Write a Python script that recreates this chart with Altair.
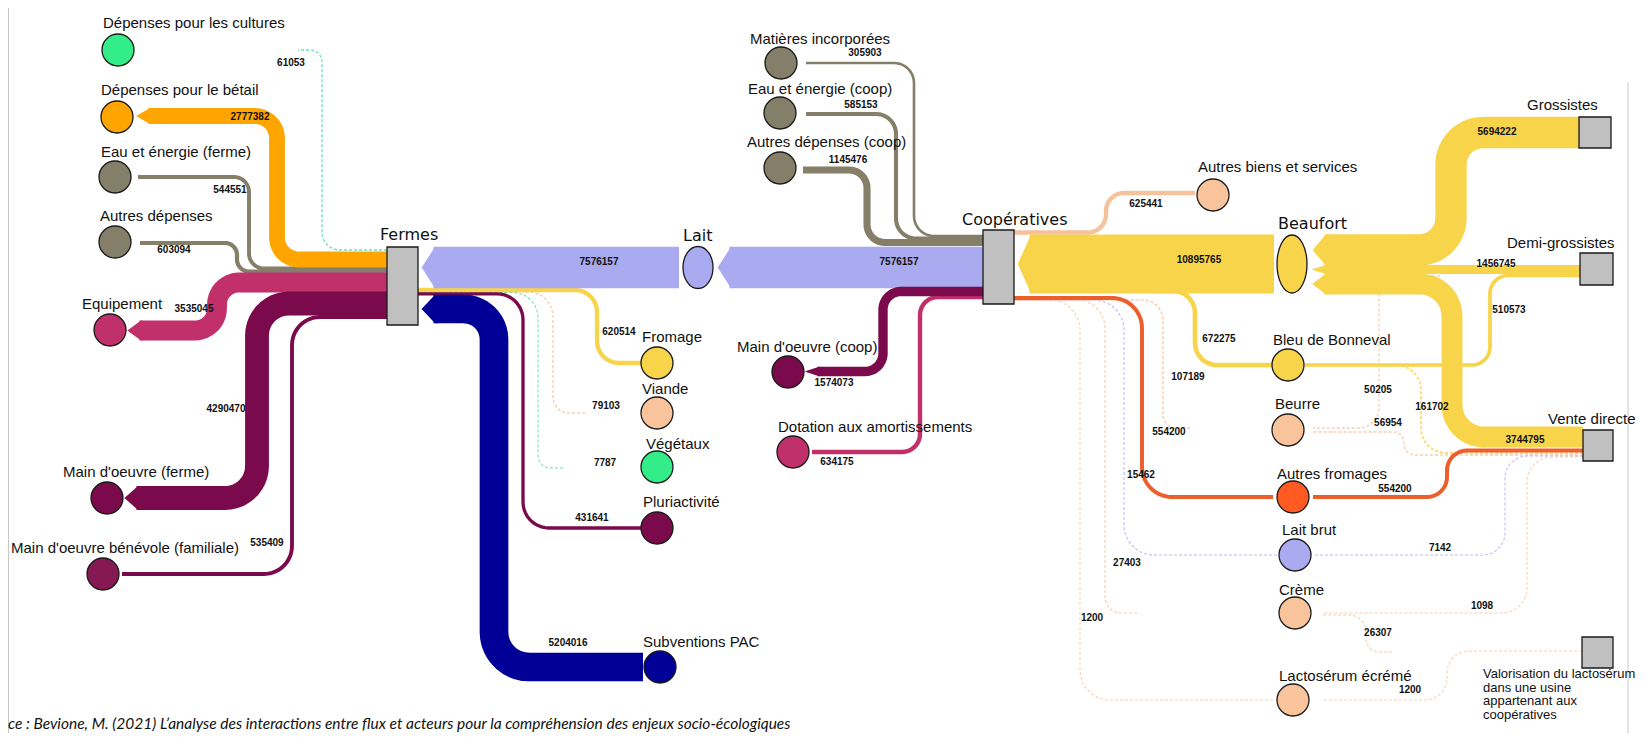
import altair as alt
import numpy as np
import pandas as pd

# ------------------------------------------------------------------ data
node_names = [
    "Dépenses pour les cultures", "Dépenses pour le bétail", "Eau et énergie (ferme)",
    "Autres dépenses", "Equipement", "Main d'oeuvre (ferme)",
    "Main d'oeuvre bénévole (familiale)", "Fermes", "Lait", "Fromage", "Viande",
    "Végétaux", "Pluriactivité", "Subventions PAC", "Matières incorporées",
    "Eau et énergie (coop)", "Autres dépenses (coop)", "Coopératives",
    "Main d'oeuvre (coop)", "Dotation aux amortissements", "Autres biens et services",
    "Beaufort", "Bleu de Bonneval", "Beurre", "Autres fromages", "Lait brut", "Crème",
    "Lactosérum écrémé", "Grossistes", "Demi-grossistes", "Vente directe",
    "Valorisation du lactosérum\ndans une usine\nappartenant aux\ncoopératives",
]
VALO = node_names[-1]

flow_source = [
    "Fermes", "Fermes", "Fermes", "Fermes", "Fermes", "Fermes", "Fermes",
    "Lait", "Coopératives", "Fromage", "Viande", "Végétaux", "Pluriactivité", "Subventions PAC",
    "Coopératives", "Coopératives", "Coopératives", "Coopératives", "Coopératives",
    "Beaufort", "Autres biens et services", "Bleu de Bonneval", "Autres fromages", "Lait brut",
    "Crème", "Lactosérum écrémé", "Beurre",
    "Grossistes", "Demi-grossistes", "Vente directe", "Demi-grossistes", "Vente directe",
    "Demi-grossistes", "Vente directe", "Vente directe", "Vente directe", "Vente directe",
    VALO, VALO,
]
flow_target = [
    "Dépenses pour les cultures", "Dépenses pour le bétail", "Eau et énergie (ferme)",
    "Autres dépenses", "Equipement", "Main d'oeuvre (ferme)", "Main d'oeuvre bénévole (familiale)",
    "Fermes", "Lait", "Fermes", "Fermes", "Fermes", "Fermes", "Fermes",
    "Matières incorporées", "Eau et énergie (coop)", "Autres dépenses (coop)",
    "Main d'oeuvre (coop)", "Dotation aux amortissements",
    "Coopératives", "Coopératives", "Coopératives", "Coopératives", "Coopératives",
    "Coopératives", "Coopératives", "Coopératives",
    "Beaufort", "Beaufort", "Beaufort", "Bleu de Bonneval", "Bleu de Bonneval",
    "Beurre", "Beurre", "Autres fromages", "Lait brut", "Crème",
    "Crème", "Lactosérum écrémé",
]
flow_values = [
    61053, 2777382, 544551, 603094, 3535045, 4290470, 535409,
    7576157, 7576157, 620514, 79103, 7787, 431641, 5204016,
    305903, 585153, 1145476, 1574073, 634175,
    10895765, 625441, 672275, 554200, 15462, 27403, 1200, 107189,
    5694222, 1456745, 3744795, 510573, 161702, 50205, 56954, 554200, 7142, 1098,
    26307, 1200,
]
caption = ("ce : Bevione, M. (2021) L’analyse des interactions entre flux et acteurs "
           "pour la compréhension des enjeux socio-écologiques")

# ------------------------------------------------------------------ layout (pixel positions of the drawing)
FLOW_GROUP = ["green", "orange", "gray", "gray", "pink", "purple", "purple",
              "lav", "lav", "yellow", "peach", "green", "purple", "navy",
              "gray", "gray", "gray", "purple", "pink",
              "yellow", "peach", "yellow", "red", "lav", "peach", "peach", "peach",
              "yellow", "yellow", "yellow", "yellow", "yellow", "peach", "peach", "red", "lav", "peach",
              "peach", "peach"]
PALETTE = {"green": "#3FDDA2", "orange": "#FFA500", "gray": "#857F69", "pink": "#C2306C",
           "purple": "#7A0A4C", "lav": "#AAAAF0", "yellow": "#F8D44A", "peach": "#F5C29C",
           "navy": "#000096", "red": "#EE5E2C"}
TIPS = {1, 4, 5, 7, 8, 13, 17, 19, 27, 28, 29}
ROUTES = [
    ([(387, 250), (322, 250), (322, 50), (298, 50)], 18),
    ([(387, 259.5), (277, 259.5), (277, 116), (137, 116)], 22),
    ([(387, 268.5), (249, 268.5), (249, 177), (138, 177)], 15),
    ([(387, 271.5), (237, 271.5), (237, 243), (140, 243)], 12),
    ([(387, 282.5), (217, 282.5), (217, 330.5), (128, 330.5)], 22),
    ([(387, 303.5), (257, 303.5), (257, 498), (125, 498)], 32),
    ([(387, 317), (292, 317), (292, 574), (122, 574)], 28),
    ([(679, 267.5), (422, 267.5)], 0),
    ([(983, 267.5), (718, 267.5)], 0),
    ([(641, 363), (597, 363), (597, 290), (418, 290)], 22),
    ([(585, 413), (553, 413), (553, 291.8), (418, 291.8)], 25),
    ([(563, 468), (538, 468), (538, 292.6), (418, 292.6)], 25),
    ([(641, 528), (523, 528), (523, 293.8), (418, 293.8)], 26),
    ([(643, 667), (494, 667), (494, 309), (422, 309)], 35),
    ([(983, 236), (914, 236), (914, 63), (806, 63)], 20),
    ([(983, 238.5), (896, 238.5), (896, 114), (806, 114)], 20),
    ([(983, 242.5), (867, 242.5), (867, 170), (803, 170)], 18),
    ([(983, 291.5), (883, 291.5), (883, 371.5), (806, 371.5)], 18),
    ([(983, 297), (920, 297), (920, 452), (812, 452)], 18),
    ([(1274, 264), (1018, 264)], 0),
    ([(1195, 193), (1106, 193), (1106, 232.5), (1014, 232.5)], 18),
    ([(1272, 365), (1195, 365), (1195, 291), (1150, 291)], 22),
    ([(1273, 497), (1142, 497), (1142, 298), (1014, 298)], 30),
    ([(1277, 555), (1124, 555), (1124, 300), (1014, 300)], 30),
    ([(1137, 613), (1105, 613), (1105, 300), (1014, 300)], 28),
    ([(1273, 700), (1080, 700), (1080, 300), (1014, 300)], 30),
    ([(1190, 428), (1163, 428), (1163, 300), (1014, 300)], 20),
    ([(1579, 132.5), (1451, 132.5), (1451, 250), (1313, 250)], 32),
    ([(1580, 269.5), (1313, 269.5)], 0),
    ([(1583, 437), (1452, 437), (1452, 284), (1313, 284)], 32),
    ([(1580, 275.5), (1490, 275.5), (1490, 365), (1305, 365)], 18),
    ([(1583, 453), (1421, 453), (1421, 365), (1305, 365)], 25),
    ([(1440, 276), (1379, 276), (1379, 428), (1313, 428)], 20),
    ([(1583, 455), (1404, 455), (1404, 432), (1313, 432)], 11),
    ([(1583, 450.5), (1447, 450.5), (1447, 497), (1313, 497)], 20),
    ([(1583, 456), (1505, 456), (1505, 555), (1313, 555)], 22),
    ([(1583, 457), (1527, 457), (1527, 613), (1322, 613)], 25),
    ([(1392, 652), (1366, 652), (1366, 615), (1322, 615)], 17),
    ([(1582, 651), (1447, 651), (1447, 700), (1323, 700)], 22),
]
VALUE_XY = [(291, 63), (250, 117), (230, 190), (174, 250), (194, 309), (226, 409), (267, 543),
            (599, 262), (899, 262), (619, 332), (606, 406), (605, 463), (592, 518), (568, 643),
            (865, 53), (861, 105), (848, 160), (834, 383), (837, 462),
            (1199, 260), (1146, 204), (1219, 339), (1169, 432), (1141, 475), (1127, 563),
            (1092, 618), (1188, 377),
            (1497, 132), (1496, 264), (1525, 440), (1509, 310), (1432, 407), (1378, 390),
            (1388, 423), (1395, 489), (1440, 548), (1482, 606), (1378, 633), (1410, 690)]

CIRCLES = {
    "Dépenses pour les cultures": ((118, 50), "#33EE88"),
    "Dépenses pour le bétail": ((117, 117), "#FFA500"),
    "Eau et énergie (ferme)": ((115, 177), "#857F69"),
    "Autres dépenses": ((115, 242), "#857F69"),
    "Equipement": ((110, 330), "#C0306A"),
    "Main d'oeuvre (ferme)": ((107, 498), "#7A0A4C"),
    "Main d'oeuvre bénévole (familiale)": ((103, 574), "#861852"),
    "Fromage": ((657, 363), "#F8D44A"),
    "Viande": ((657, 413), "#F9C49C"),
    "Végétaux": ((657, 467), "#33EE88"),
    "Pluriactivité": ((657, 528), "#7A0A4C"),
    "Subventions PAC": ((660, 667), "#000096"),
    "Matières incorporées": ((781, 63), "#857F69"),
    "Eau et énergie (coop)": ((780, 113), "#857F69"),
    "Autres dépenses (coop)": ((780, 168), "#857F69"),
    "Main d'oeuvre (coop)": ((788, 372), "#7A0A4C"),
    "Dotation aux amortissements": ((793, 452), "#C0306A"),
    "Autres biens et services": ((1213, 195), "#F9C49C"),
    "Bleu de Bonneval": ((1288, 365), "#F8D44A"),
    "Beurre": ((1288, 430), "#F9C49C"),
    "Autres fromages": ((1293, 497), "#FF5A22"),
    "Lait brut": ((1295, 555), "#AAAAF0"),
    "Crème": ((1295, 613), "#F9C49C"),
    "Lactosérum écrémé": ((1293, 700), "#F9C49C"),
}
ELLIPSES = {"Lait": ((698, 267.5), 30, 42, "#AAAAF0"),
            "Beaufort": ((1292, 264), 30, 58, "#F8D44A")}
RECTS = {"Fermes": (387, 418, 247, 325), "Coopératives": (983, 1014, 230, 304),
         "Grossistes": (1579, 1611, 117, 148), "Demi-grossistes": (1580, 1613, 253, 285),
         "Vente directe": (1583, 1613, 430, 461), VALO: (1582, 1613, 637, 668)}
LABEL_XY = {
    "Dépenses pour les cultures": (103, 23), "Dépenses pour le bétail": (101, 90),
    "Eau et énergie (ferme)": (101, 152), "Autres dépenses": (100, 216), "Equipement": (82, 304),
    "Main d'oeuvre (ferme)": (63, 472), "Main d'oeuvre bénévole (familiale)": (11, 548),
    "Fromage": (642, 337), "Viande": (642, 389), "Végétaux": (646, 444),
    "Pluriactivité": (643, 502), "Subventions PAC": (643, 642),
    "Matières incorporées": (750, 39), "Eau et énergie (coop)": (748, 89),
    "Autres dépenses (coop)": (747, 142), "Main d'oeuvre (coop)": (737, 347),
    "Dotation aux amortissements": (778, 427), "Autres biens et services": (1198, 167),
    "Bleu de Bonneval": (1273, 340), "Beurre": (1275, 404), "Autres fromages": (1277, 474),
    "Lait brut": (1282, 530), "Crème": (1279, 590), "Lactosérum écrémé": (1279, 676),
    "Grossistes": (1527, 105), "Demi-grossistes": (1507, 243), "Vente directe": (1548, 419),
}
BIG_LABEL_XY = {"Fermes": (380, 235), "Lait": (683, 236), "Coopératives": (962, 220),
                "Beaufort": (1278, 224)}
VALO_XY = (1483, 668)
TIP_LEN = 12
VMAX = max(flow_values)
DOTTED_BELOW = 200000

# ------------------------------------------------------------------ build tables
def rounded(points, r, steps=12):
    pts = [np.array(p, float) for p in points]
    out = [pts[0]]
    for i in range(1, len(pts) - 1):
        p0, p1, p2 = pts[i - 1], pts[i], pts[i + 1]
        d1 = np.linalg.norm(p1 - p0)
        d2 = np.linalg.norm(p2 - p1)
        rr = min(r, d1 / 2, d2 / 2)
        a = p1 + (p0 - p1) / d1 * rr
        b = p1 + (p2 - p1) / d2 * rr
        c1 = a + (p1 - a) * 0.552
        c2 = b + (p1 - b) * 0.552
        for t in np.linspace(0, 1, steps):
            out.append((1 - t) ** 3 * a + 3 * (1 - t) ** 2 * t * c1 + 3 * (1 - t) * t ** 2 * c2 + t ** 3 * b)
    out.append(pts[-1])
    return out

rows, tips, vlabels = [], [], []
for i, val in enumerate(flow_values):
    pts, r = ROUTES[i]
    fid = f"f{i:02d}"
    col = PALETTE[FLOW_GROUP[i]]
    kind = "dot" if val < DOTTED_BELOW else ("thick" if val >= 1000000 else "thin")
    body = list(pts)
    if i in TIPS:
        end = np.array(pts[-1], float)
        prev = np.array(pts[-2], float)
        d = (end - prev) / np.linalg.norm(end - prev)
        base = end - d * TIP_LEN
        body = body[:-1] + [tuple(base + d * 0.5)]
        tips.append(dict(fid=fid, seq=0, x=base[0] - d[0], y=base[1] - d[1], w=val, col=col))
        tips.append(dict(fid=fid, seq=1, x=end[0], y=end[1], w=0, col=col))
    for j, p in enumerate(rounded(body, r)):
        rows.append(dict(fid=fid, seq=j, x=float(p[0]), y=float(p[1]), w=val, col=col, kind=kind))
    vx, vy = VALUE_XY[i]
    vlabels.append(dict(x=vx, y=vy, text=str(val)))

flows = pd.DataFrame(rows)
tips_df = pd.DataFrame(tips)
vlab_df = pd.DataFrame(vlabels)

circ_df = pd.DataFrame([dict(name=n, x=p[0], y=p[1], fill=c) for n, (p, c) in CIRCLES.items()])
rect_df = pd.DataFrame([dict(name=n, x=v[0], x2=v[1], y=v[2], y2=v[3]) for n, v in RECTS.items()])
lab_df = pd.DataFrame([dict(text=n, x=LABEL_XY[n][0], y=LABEL_XY[n][1]) for n in node_names if n in LABEL_XY])
big_df = pd.DataFrame([dict(text=n, x=BIG_LABEL_XY[n][0], y=BIG_LABEL_XY[n][1]) for n in node_names if n in BIG_LABEL_XY])
valo_df = pd.DataFrame([dict(text=VALO, x=VALO_XY[0], y=VALO_XY[1])])
frame_df = pd.DataFrame([dict(x=8.5, y=8, y2=733), dict(x=1628, y=82, y2=733)])
cap_df = pd.DataFrame([dict(text=caption, x=8, y=724)])

# ------------------------------------------------------------------ encodings
XS = alt.Scale(domain=[8, 1637], nice=False, zero=False)
YS = alt.Scale(domain=[8, 733], nice=False, zero=False, reverse=True)
X = alt.X("x:Q", scale=XS, axis=None)
Y = alt.Y("y:Q", scale=YS, axis=None)
SIZE = alt.Size("w:Q", scale=alt.Scale(domain=[0, VMAX], range=[1, 59]), legend=None)

def flow_layer(df, **kw):
    return alt.Chart(df).mark_line(strokeCap="butt", strokeJoin="round", **kw).encode(
        x=X, y=Y, size=SIZE, detail="fid:N", order="seq:Q",
        color=alt.Color("col:N", scale=None))

dotted = flow_layer(flows[flows["kind"] == "dot"], strokeDash=[3, 2], opacity=0.8)
thin = flow_layer(flows[flows["kind"] == "thin"])
thick = flow_layer(flows[flows["kind"] == "thick"])
tip_layer = alt.Chart(tips_df).mark_trail().encode(
    x=X, y=Y, size=SIZE, detail="fid:N", order="seq:Q", color=alt.Color("col:N", scale=None))

frame = alt.Chart(frame_df).mark_rule(color="#C8C8C8", strokeWidth=1).encode(
    x=X, y=Y, y2="y2:Q")

circles = alt.Chart(circ_df).mark_point(shape="circle", filled=True, size=1024,
                                        stroke="#1A1A1A", strokeWidth=1.3, opacity=1).encode(
    x=X, y=Y, fill=alt.Fill("fill:N", scale=None))

def ellipse_path(a):
    k = 0.5523
    return (f"M0,-1 C{k*a:.4f},-1 {a:.4f},{-k} {a:.4f},0 C{a:.4f},{k} {k*a:.4f},1 0,1 "
            f"C{-k*a:.4f},1 {-a:.4f},{k} {-a:.4f},0 C{-a:.4f},{-k} {-k*a:.4f},-1 0,-1 Z")

ell_layers = []
for n, ((ex, ey), w, h, c) in ELLIPSES.items():
    edf = pd.DataFrame([dict(name=n, x=ex, y=ey)])
    ell_layers.append(alt.Chart(edf).mark_point(
        shape=ellipse_path(w / h), filled=True, size=h * h, fill=c, stroke="#1A1A1A",
        strokeWidth=1.3, opacity=1).encode(x=X, y=Y))

rects = alt.Chart(rect_df).mark_rect(fill="#C0C0C0", stroke="#1A1A1A", strokeWidth=1.3).encode(
    x=X, x2="x2:Q", y=Y, y2="y2:Q")

labels = alt.Chart(lab_df).mark_text(align="left", baseline="middle", font="Liberation Sans",
                                     fontSize=15, color="#111111").encode(x=X, y=Y, text="text:N")
big_labels = alt.Chart(big_df).mark_text(align="left", baseline="middle", font="DejaVu Sans",
                                         fontSize=16, color="#111111").encode(x=X, y=Y, text="text:N")
valo_label = alt.Chart(valo_df).mark_text(align="left", baseline="top", font="Liberation Sans",
                                          fontSize=13, lineHeight=13.7, lineBreak="\n",
                                          color="#111111").encode(x=X, y=Y, text="text:N")
value_labels = alt.Chart(vlab_df).mark_text(align="center", baseline="middle", font="Liberation Sans",
                                            fontSize=10, fontWeight="bold", color="#111111").encode(
    x=X, y=Y, text="text:N")
cap = alt.Chart(cap_df).mark_text(align="left", baseline="middle", font="Lato", fontSize=15.5,
                                  fontStyle="italic", color="#111111").encode(x=X, y=Y, text="text:N")

chart = alt.layer(frame, dotted, thin, thick, tip_layer, rects, circles, *ell_layers,
                  labels, big_labels, valo_label, value_labels, cap).properties(
    width=1629, height=725, padding=0, autosize=alt.AutoSizeParams(type="none")
).configure_view(strokeWidth=0)

chart.save("out.html", embed_options={"renderer": "svg", "actions": False})
